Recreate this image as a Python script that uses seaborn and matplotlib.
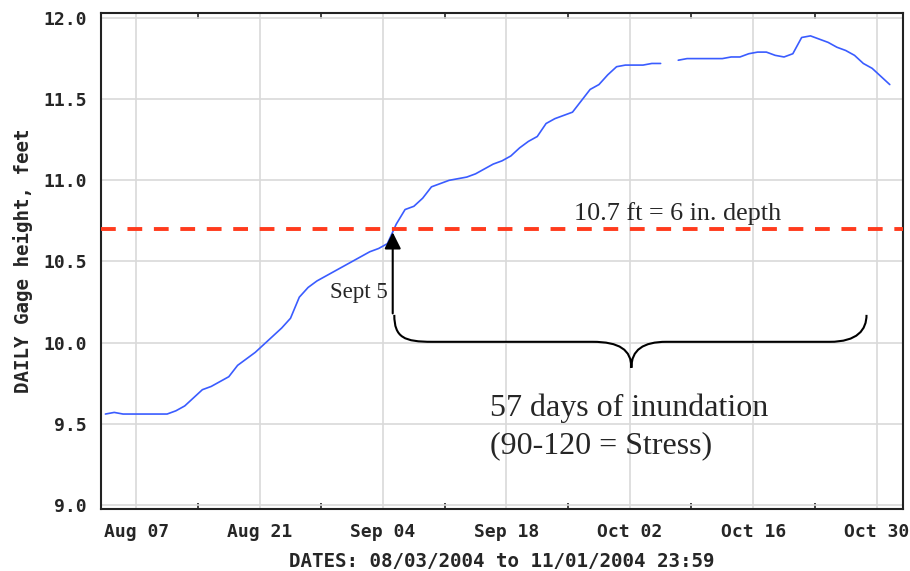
import seaborn as sns
import matplotlib.pyplot as plt
import matplotlib.dates as mdates
from matplotlib.path import Path
from matplotlib.patches import PathPatch
import numpy as np
import pandas as pd

# daily gage height (ft), one reading per day from Aug 3 to Oct 31 2004, Oct 6 missing
days = pd.date_range('2004-08-03 12:00', '2004-10-31 12:00', freq='D')
gage = [9.56, 9.57, 9.56, 9.56, 9.56, 9.56, 9.56, 9.56, 9.58, 9.61,
        9.66, 9.71, 9.73, 9.76, 9.79, 9.86, 9.90, 9.94, 9.99, 10.04,
        10.09, 10.15, 10.28, 10.34, 10.38, 10.41, 10.44, 10.47, 10.50, 10.53,
        10.56, 10.58, 10.61, 10.73, 10.82, 10.84, 10.89, 10.96, 10.98, 11.00,
        11.01, 11.02, 11.04, 11.07, 11.10, 11.12, 11.15, 11.20, 11.24, 11.27,
        11.35, 11.38, 11.40, 11.42, 11.49, 11.56, 11.59, 11.65, 11.70, 11.71,
        11.71, 11.71, 11.72, 11.72, np.nan, 11.74, 11.75, 11.75, 11.75, 11.75,
        11.75, 11.76, 11.76, 11.78, 11.79, 11.79, 11.77, 11.76, 11.78, 11.88,
        11.89, 11.87, 11.85, 11.82, 11.80, 11.77, 11.72, 11.69, 11.64, 11.59]

tick_dates = ['2004-08-07', '2004-08-21', '2004-09-04', '2004-09-18',
              '2004-10-02', '2004-10-16', '2004-10-30']
y_ticks = [9.0, 9.5, 10.0, 10.5, 11.0, 11.5, 12.0]
threshold = 10.7

df = pd.DataFrame({'date': days, 'gage': gage})
# split the line where the reading is missing
df['segment'] = df['gage'].isna().cumsum()
df = df.dropna()

sns.set_style('white')
plt.rcParams['font.family'] = ['DejaVu Sans Mono']

fig = plt.figure(figsize=(9.1, 5.71), dpi=100)
ax = fig.add_axes([0.111, 0.1086, 0.8813, 0.8678])

sns.lineplot(data=df, x='date', y='gage', units='segment', estimator=None,
             color='#3a5cff', lw=1.2, ax=ax, zorder=3)

x0 = mdates.date2num(pd.Timestamp('2004-08-03'))
ax.set_xlim(x0, x0 + 91)
ax.set_ylim(8.975, 12.028)

# axes / ticks
major = [mdates.date2num(pd.Timestamp(d)) for d in tick_dates]
ax.set_xticks(major)
ax.set_xticks([m + 7 for m in major[:-1]], minor=True)
ax.xaxis.set_major_formatter(mdates.DateFormatter('%b %d'))
ax.set_yticks(y_ticks)
ax.yaxis.set_major_formatter(plt.FormatStrFormatter('%.1f'))
ax.tick_params(axis='both', which='major', length=0, pad=10, labelsize=13)
ax.tick_params(axis='x', which='minor', direction='in', length=4, width=1.2,
               top=True, bottom=True, color='#222222')
for lab in ax.get_xticklabels() + ax.get_yticklabels():
    lab.set_fontweight('bold')
ax.grid(True, which='major', color='#d9d9d9', lw=1.2, zorder=0)
ax.set_axisbelow(True)
for s in ax.spines.values():
    s.set_color('#222222')
    s.set_linewidth(1.5)

ax.set_xlabel('DATES: 08/03/2004 to 11/01/2004 23:59', fontsize=13.8,
              fontweight='bold', labelpad=8)
ax.set_ylabel('DAILY Gage height, feet', fontsize=13.8, fontweight='bold',
              labelpad=8)

# threshold line
ax.axhline(threshold, color='#ff3b1d', lw=2.8, dashes=(3.8, 3.0), zorder=4)
ax.text(x0 + 53.7, 10.756, '10.7 ft = 6 in. depth', family='Liberation Serif',
        fontsize=18.8, ha='left', va='baseline', zorder=5)

# Sept 5 arrow
ax.annotate('', xy=(x0 + 33.1, 10.68), xytext=(x0 + 33.1, 10.18),
            arrowprops=dict(arrowstyle='-|>,head_length=0.5,head_width=0.25',
                            color='black', lw=1.5, mutation_scale=20,
                            shrinkA=0, shrinkB=0), zorder=6)
ax.text(x0 + 32.5, 10.276, 'Sept 5', family='Liberation Serif',
        fontsize=16.5, ha='right', va='baseline', zorder=5)

# curly brace under the inundation period
brace_x = [33.28, 33.28, 34.42, 37.59, 55.75, 58.82, 60.18, 60.18,
           60.18, 61.54, 64.15, 82.66, 85.84, 86.86, 86.86]
brace_y = [10.171, 10.030, 10.005, 10.005, 10.005, 10.005, 9.956, 9.845,
           9.956, 10.005, 10.005, 10.005, 10.005, 10.079, 10.171]
codes = [Path.MOVETO, Path.CURVE4, Path.CURVE4, Path.CURVE4, Path.LINETO,
         Path.CURVE4, Path.CURVE4, Path.CURVE4, Path.CURVE4, Path.CURVE4,
         Path.CURVE4, Path.LINETO, Path.CURVE4, Path.CURVE4, Path.CURVE4]
verts = [(x0 + bx, by) for bx, by in zip(brace_x, brace_y)]
ax.add_patch(PathPatch(Path(verts, codes), fill=False, color='black',
                       lw=1.5, zorder=5))

ax.text(x0 + 44.1, 9.549, '57 days of inundation', family='Liberation Serif',
        fontsize=23, ha='left', va='baseline', zorder=5)
ax.text(x0 + 44.1, 9.321, '(90-120 = Stress)', family='Liberation Serif',
        fontsize=23, ha='left', va='baseline', zorder=5)

plt.savefig('out.png', dpi=100)
